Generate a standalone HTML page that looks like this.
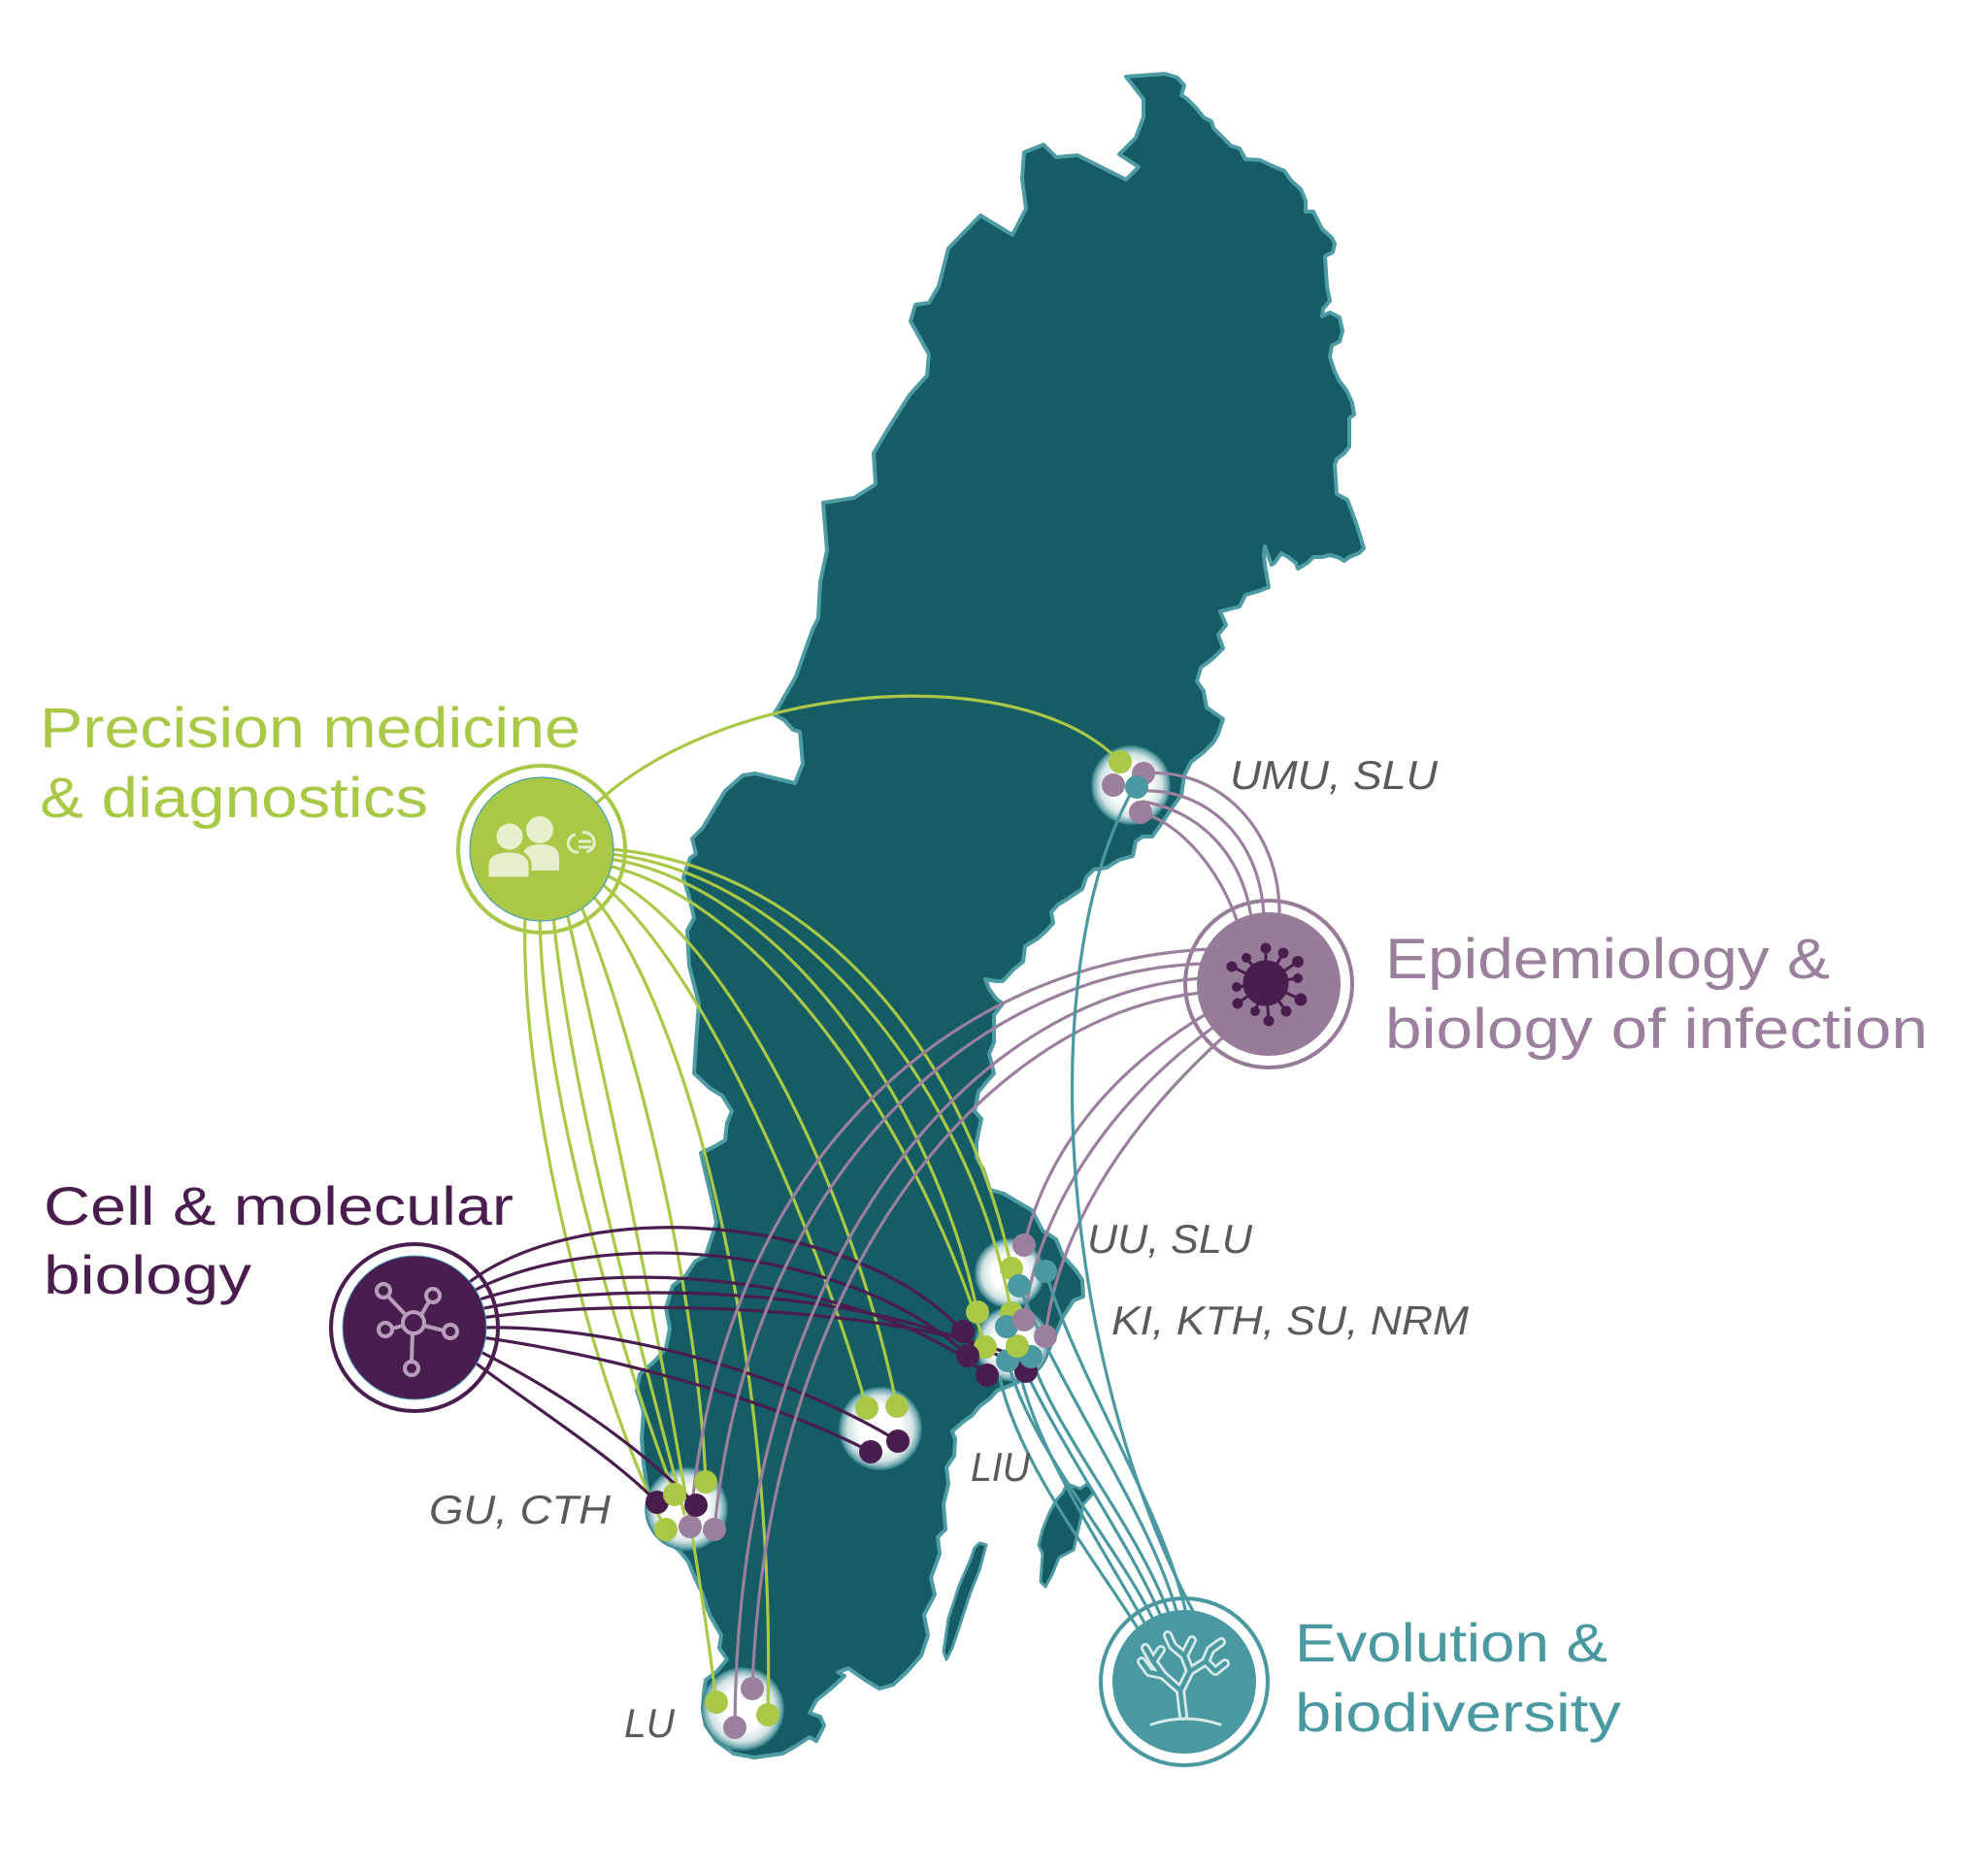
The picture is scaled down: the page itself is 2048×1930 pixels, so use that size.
<!DOCTYPE html>
<html>
<head>
<meta charset="utf-8">
<style>
html,body{margin:0;padding:0;background:#ffffff;}
svg{display:block;}
.big{font-family:"Liberation Sans",sans-serif;}
.lab{font-family:"Liberation Sans",sans-serif;font-style:italic;fill:#5a5a5a;font-size:42px;}
</style>
</head>
<body>
<svg width="2048" height="1930" viewBox="0 0 2048 1930" xmlns="http://www.w3.org/2000/svg">
<defs>
<radialGradient id="glow" cx="50%" cy="50%" r="50%">
<stop offset="0" stop-color="#ffffff"/>
<stop offset="0.5" stop-color="#ffffff"/>
<stop offset="0.8" stop-color="#d3e3e5"/>
<stop offset="0.95" stop-color="#6fa8ae"/>
<stop offset="1" stop-color="#2f7f88"/>
</radialGradient>
</defs>
<rect width="2048" height="1930" fill="#ffffff"/>

<!-- Sweden -->
<polygon fill="#155c63" stroke="#4d9ba3" stroke-width="4" stroke-linejoin="round" points="1160,79 1200,76 1213,80 1220,88 1217,98 1223,102 1232,111 1240,121 1248,125 1250,132 1260,142 1268,150 1277,153 1283,164 1298,165 1313,172 1323,176 1330,186 1340,195 1345,207 1345,218 1353,218 1357,226 1362,236 1372,245 1375,251 1373,260 1365,264 1367,295 1370,310 1363,318 1362,326 1370,322 1380,327 1383,341 1380,352 1372,356 1370,368 1375,383 1380,393 1387,402 1393,415 1395,427 1390,431 1390,460 1385,467 1377,473 1375,479 1377,509 1388,515 1393,528 1398,542 1402,555 1405,565 1400,570 1390,574 1385,578 1378,574 1370,572 1362,574 1353,574 1347,580 1337,586 1335,580 1327,574 1320,570 1313,580 1310,582 1307,574 1303,563 1302,572 1303,582 1307,605 1297,609 1283,613 1277,625 1257,630 1263,644 1255,654 1260,668 1250,678 1237,688 1233,702 1240,712 1243,729 1253,736 1260,741 1255,756 1250,765 1240,775 1227,785 1220,799 1217,819 1207,833 1197,848 1187,862 1177,862 1170,867 1167,882 1153,886 1140,894 1127,896 1119,904 1115,916 1106,922 1097,928 1090,932 1083,940 1085,951 1078,959 1069,967 1056,975 1054,991 1044,999 1033,1011 1026,1011 1015,1009 1019,1019 1026,1029 1033,1034 1024,1046 1024,1074 1019,1086 1022,1098 1024,1106 1017,1114 1008,1125 1004,1145 1011,1153 1006,1177 1006,1193 1013,1205 1020,1226 1034,1230 1049,1239 1063,1247 1074,1268 1088,1277 1095,1294 1102,1302 1109,1310 1115,1319 1116,1336 1106,1340 1095,1357 1088,1374 1081,1390 1077,1399 1070,1407 1059,1416 1049,1424 1040,1428 1027,1433 1020,1441 1009,1449 1002,1458 991,1466 981,1475 984,1483 983,1500 975,1512 977,1529 972,1550 974,1576 966,1584 968,1601 959,1626 963,1643 952,1664 956,1685 949,1706 934,1723 920,1736 906,1740 891,1731 874,1719 863,1723 870,1727 856,1740 841,1752 834,1765 845,1769 849,1778 841,1794 834,1790 820,1799 806,1807 777,1811 756,1807 738,1794 727,1778 724,1761 725,1744 727,1731 738,1723 749,1710 741,1698 743,1685 731,1664 724,1643 716,1626 709,1609 699,1597 677,1580 670,1546 666,1529 663,1508 661,1483 663,1454 656,1433 659,1416 674,1403 686,1390 690,1369 686,1348 693,1325 706,1315 716,1300 727,1294 738,1260 734,1239 722,1188 735,1182 747,1175 749,1157 754,1145 744,1129 731,1121 715,1106 717,1074 720,1034 715,1015 710,995 708,959 715,946 711,928 704,904 711,884 717,880 713,864 724,853 736,833 747,815 765,799 778,797 819,807 827,787 824,754 817,752 808,742 797,736 801,730 820,697 837,649 843,637 845,600 852,567 848,518 880,513 902,499 900,467 913,445 937,407 955,387 957,365 938,331 943,314 957,312 967,295 977,256 1010,222 1043,242 1057,215 1053,184 1055,157 1075,149 1088,162 1110,160 1160,185 1173,172 1153,159 1170,142 1178,121 1178,102"/>
<!-- Gotland -->
<polygon fill="#155c63" stroke="#4d9ba3" stroke-width="3" stroke-linejoin="round" points="1099,1529 1113,1534 1120,1529 1127,1538 1116,1550 1113,1567 1109,1584 1106,1597 1091,1605 1084,1622 1077,1635 1072,1630 1074,1601 1070,1592 1074,1576 1081,1559 1088,1546 1095,1538"/>
<!-- Oland -->
<polygon fill="#155c63" stroke="#4d9ba3" stroke-width="3" stroke-linejoin="round" points="1009,1590 1016,1592 1009,1618 999,1643 991,1668 981,1698 975,1710 972,1702 977,1668 988,1634 999,1609 1004,1595"/>

<!-- glow nodes -->
<g stroke="#3f8a92" stroke-width="1.5" fill="url(#glow)">
<circle cx="1165" cy="809" r="40"/>
<circle cx="1040" cy="1312" r="35"/>
<circle cx="1043" cy="1385" r="38"/>
<circle cx="907" cy="1472" r="42"/>
<circle cx="707" cy="1555" r="42"/>
<circle cx="765" cy="1761" r="42"/>
</g>

<!-- hub rings -->
<g fill="none" stroke-width="4">
<circle cx="558" cy="875" r="86" stroke="#a8c846"/>
<circle cx="1307" cy="1014" r="86" stroke="#977c99"/>
<circle cx="427" cy="1368" r="86" stroke="#4a1d4f"/>
<circle cx="1220" cy="1733" r="86" stroke="#4a98a0"/>
</g>

<!-- green lines -->
<g fill="none" stroke="#a8c846" stroke-width="3.2" stroke-linecap="round">
<path d="M612,830 C750,700 1050,680 1152,783"/>
<path d="M628,875 C820,890 990,1060 1042,1307"/>
<path d="M627,885 C800,910 960,1130 1007,1352"/>
<path d="M628,880 C820,900 1000,1120 1042,1353"/>
<path d="M626,892 C790,930 950,1170 1015,1388"/>
<path d="M623,901 C750,960 880,1230 924,1449"/>
<path d="M619,910 C720,990 840,1260 893,1451"/>
<path d="M610,922 C710,1040 800,1400 791,1767"/>
<path d="M598,932 C660,1080 720,1350 727,1527"/>
<path d="M584,940 C620,1100 700,1450 738,1754"/>
<path d="M570,944 C590,1150 670,1420 705,1560"/>
<path d="M556,945 C560,1150 650,1420 695,1540"/>
<path d="M541,943 C535,1150 620,1450 686,1576"/>
</g>
<!-- dark lines -->
<g fill="none" stroke="#4a1d4f" stroke-width="3.2" stroke-linecap="round">
<path d="M481,1323 C600,1230 880,1250 992,1372"/>
<path d="M486,1331 C620,1260 880,1285 997,1397"/>
<path d="M491,1340 C640,1290 900,1320 1017,1417"/>
<path d="M494,1349 C650,1315 930,1330 1057,1413"/>
<path d="M496,1358 C660,1335 920,1350 1040,1395"/>
<path d="M497,1368 C640,1365 820,1420 925,1485"/>
<path d="M496,1378 C620,1395 790,1440 897,1496"/>
<path d="M493,1392 C570,1430 660,1490 717,1551"/>
<path d="M488,1403 C550,1450 630,1500 677,1548"/>
</g>
<!-- mauve lines -->
<g fill="none" stroke="#9b809e" stroke-width="3.2" stroke-linecap="round">
<path d="M1318,945 C1320,850 1250,790 1179,797"/>
<path d="M1302,944 C1298,860 1240,815 1183,815"/>
<path d="M1289,946 C1280,880 1235,835 1177,826"/>
<path d="M1275,951 C1258,900 1220,850 1175,837"/>
<path d="M1247,978 C980,990 740,1200 711,1573"/>
<path d="M1241,993 C1000,1000 770,1220 736,1576"/>
<path d="M1238,1008 C1000,1025 760,1300 757,1780"/>
<path d="M1237,1023 C1010,1048 790,1320 775,1740"/>
<path d="M1244,1044 C1150,1100 1080,1180 1055,1283"/>
<path d="M1252,1057 C1150,1130 1070,1240 1055,1360"/>
<path d="M1262,1067 C1170,1150 1090,1260 1077,1377"/>
</g>
<!-- teal lines -->
<g fill="none" stroke="#4a98a0" stroke-width="3.2" stroke-linecap="round">
<path d="M1231,1664 C1095,1410 1060,1000 1169,810"/>
<path d="M1222,1663 C1200,1560 1110,1420 1077,1310"/>
<path d="M1213,1664 C1185,1560 1090,1430 1050,1325"/>
<path d="M1205,1665 C1170,1570 1090,1480 1062,1398"/>
<path d="M1197,1668 C1160,1580 1070,1460 1037,1367"/>
<path d="M1189,1671 C1150,1590 1060,1490 1038,1402"/>
<path d="M1181,1676 C1140,1600 1070,1500 1050,1412"/>
<path d="M1174,1681 C1130,1610 1050,1510 1030,1420"/>
</g>

<!-- hub fills -->
<circle cx="558" cy="875" r="74" fill="#a8c846" stroke="#4a9fb5" stroke-width="1.2"/>
<circle cx="1307" cy="1014" r="74" fill="#977c99"/>
<circle cx="427" cy="1368" r="74" fill="#4a1d4f" stroke="#4a9fb5" stroke-width="1"/>
<circle cx="1220" cy="1733" r="74" fill="#4a98a0"/>

<!-- precision icon -->
<g fill="#e6f0cd">
<circle cx="556" cy="855" r="14"/>
<path d="M538,897 L538,884 Q538,870 557,870 Q576,870 576,884 L576,897 Z"/>
<circle cx="525" cy="862" r="15" stroke="#a8c846" stroke-width="3"/>
<path d="M502,905 L502,892 Q502,877 524,877 Q546,877 546,892 L546,905 Z" stroke="#a8c846" stroke-width="3"/>
</g>
<g fill="none" stroke="#e6f0cd" stroke-width="3">
<path d="M593,860 A9,9 0 1,0 596,878"/>
<path d="M600,858 A9,9 0 0,1 604,878"/>
<line x1="596" y1="867" x2="609" y2="867"/>
<line x1="596" y1="873" x2="609" y2="873"/>
</g>

<!-- virus icon -->
<g stroke="#4a1d4f" stroke-width="3" fill="#4a1d4f">
<line x1="1304" y1="1013" x2="1304" y2="977"/>
<line x1="1304" y1="1013" x2="1322" y2="982"/>
<line x1="1304" y1="1013" x2="1337" y2="991"/>
<line x1="1304" y1="1013" x2="1337" y2="1008"/>
<line x1="1304" y1="1013" x2="1340" y2="1030"/>
<line x1="1304" y1="1013" x2="1325" y2="1042"/>
<line x1="1304" y1="1013" x2="1307" y2="1052"/>
<line x1="1304" y1="1013" x2="1293" y2="1042"/>
<line x1="1304" y1="1013" x2="1275" y2="1034"/>
<line x1="1304" y1="1013" x2="1274" y2="1017"/>
<line x1="1304" y1="1013" x2="1269" y2="996"/>
<line x1="1304" y1="1013" x2="1284" y2="987"/>
<circle cx="1304" cy="1013" r="22"/>
<circle cx="1304" cy="977" r="4"/>
<circle cx="1322" cy="982" r="4"/>
<circle cx="1337" cy="991" r="4.5"/>
<circle cx="1337" cy="1008" r="3.5"/>
<circle cx="1340" cy="1030" r="5"/>
<circle cx="1325" cy="1042" r="4"/>
<circle cx="1307" cy="1052" r="4"/>
<circle cx="1293" cy="1042" r="3.5"/>
<circle cx="1275" cy="1034" r="4"/>
<circle cx="1274" cy="1017" r="3.5"/>
<circle cx="1269" cy="996" r="4"/>
<circle cx="1284" cy="987" r="3.5"/>
</g>

<!-- molecule icon -->
<g stroke="#b89fbb" stroke-width="4" fill="none">
<line x1="418" y1="1355" x2="400" y2="1336"/>
<line x1="434" y1="1355" x2="442" y2="1341"/>
<line x1="415" y1="1366" x2="404" y2="1369"/>
<line x1="437" y1="1366" x2="457" y2="1371"/>
<line x1="425" y1="1374" x2="424" y2="1402"/>
<circle cx="426" cy="1363" r="11"/>
<circle cx="395" cy="1330" r="7"/>
<circle cx="446" cy="1335" r="7"/>
<circle cx="397" cy="1370" r="7"/>
<circle cx="464" cy="1372" r="7"/>
<circle cx="424" cy="1410" r="7"/>
</g>

<!-- coral icon -->
<g fill="none" stroke-linecap="round" stroke-linejoin="round">
<g stroke="#d6e9eb" stroke-width="10">
<path d="M1219,1768 L1216,1742 L1198,1726 L1188,1712 L1180,1698"/>
<path d="M1216,1742 L1226,1722 L1220,1706 L1228,1690"/>
<path d="M1226,1722 L1242,1712 L1247,1700 L1258,1692"/>
<path d="M1198,1726 L1184,1723 L1176,1712"/>
<path d="M1242,1712 L1252,1722 L1262,1714"/>
<path d="M1220,1706 L1208,1696 L1203,1685"/>
<path d="M1188,1712 L1196,1700"/>
</g>
<g stroke="#4a98a0" stroke-width="4.5">
<path d="M1219,1768 L1216,1742 L1198,1726 L1188,1712 L1180,1698"/>
<path d="M1216,1742 L1226,1722 L1220,1706 L1228,1690"/>
<path d="M1226,1722 L1242,1712 L1247,1700 L1258,1692"/>
<path d="M1198,1726 L1184,1723 L1176,1712"/>
<path d="M1242,1712 L1252,1722 L1262,1714"/>
<path d="M1220,1706 L1208,1696 L1203,1685"/>
<path d="M1188,1712 L1196,1700"/>
</g>
<path d="M1186,1777 Q1221,1765 1257,1777" stroke="#d6e9eb" stroke-width="3"/>
</g>

<!-- dots -->
<g>
<circle cx="1154" cy="785" r="12" fill="#a8c846"/>
<circle cx="1147" cy="809" r="12" fill="#9b809e"/>
<circle cx="1178" cy="797" r="12" fill="#9b809e"/>
<circle cx="1175" cy="837" r="12" fill="#9b809e"/>
<circle cx="1171" cy="811" r="12" fill="#4a98a0"/>

<circle cx="1055" cy="1283" r="12" fill="#9b809e"/>
<circle cx="1077" cy="1310" r="12" fill="#4a98a0"/>
<circle cx="1042" cy="1307" r="12" fill="#a8c846"/>
<circle cx="1050" cy="1325" r="12" fill="#4a98a0"/>

<circle cx="1057" cy="1413" r="12" fill="#4a1d4f"/>
<circle cx="1062" cy="1398" r="12" fill="#4a98a0"/>
<circle cx="1038" cy="1402" r="12" fill="#4a98a0"/>
<circle cx="1048" cy="1387" r="12" fill="#a8c846"/>
<circle cx="1042" cy="1353" r="12" fill="#a8c846"/>
<circle cx="1037" cy="1367" r="12" fill="#4a98a0"/>
<circle cx="1055" cy="1360" r="12" fill="#9b809e"/>
<circle cx="1077" cy="1377" r="12" fill="#9b809e"/>
<circle cx="1007" cy="1352" r="12" fill="#a8c846"/>
<circle cx="992" cy="1372" r="12" fill="#4a1d4f"/>
<circle cx="1015" cy="1388" r="12" fill="#a8c846"/>
<circle cx="997" cy="1397" r="12" fill="#4a1d4f"/>
<circle cx="1017" cy="1417" r="12" fill="#4a1d4f"/>

<circle cx="893" cy="1451" r="12" fill="#a8c846"/>
<circle cx="924" cy="1449" r="12" fill="#a8c846"/>
<circle cx="897" cy="1496" r="12" fill="#4a1d4f"/>
<circle cx="925" cy="1485" r="12" fill="#4a1d4f"/>

<circle cx="677" cy="1548" r="12" fill="#4a1d4f"/>
<circle cx="695" cy="1540" r="12" fill="#a8c846"/>
<circle cx="727" cy="1527" r="12" fill="#a8c846"/>
<circle cx="686" cy="1576" r="12" fill="#a8c846"/>
<circle cx="711" cy="1573" r="12" fill="#9b809e"/>
<circle cx="736" cy="1576" r="12" fill="#9b809e"/>
<circle cx="717" cy="1551" r="12" fill="#4a1d4f"/>

<circle cx="738" cy="1754" r="12" fill="#a8c846"/>
<circle cx="775" cy="1740" r="12" fill="#9b809e"/>
<circle cx="791" cy="1767" r="12" fill="#a8c846"/>
<circle cx="757" cy="1780" r="12" fill="#9b809e"/>
</g>

<!-- hub titles -->
<g class="big" font-size="58">
<text x="41" y="770" fill="#a8c846" textLength="557" lengthAdjust="spacingAndGlyphs">Precision medicine</text>
<text x="41" y="842" fill="#a8c846" textLength="400" lengthAdjust="spacingAndGlyphs">&amp; diagnostics</text>
<text x="1427" y="1008" fill="#9b809e" textLength="458" lengthAdjust="spacingAndGlyphs">Epidemiology &amp;</text>
<text x="1427" y="1080" fill="#9b809e" textLength="559" lengthAdjust="spacingAndGlyphs">biology of infection</text>
<text x="45" y="1262" fill="#4a1d4f" font-size="56" textLength="484" lengthAdjust="spacingAndGlyphs">Cell &amp; molecular</text>
<text x="45" y="1333" fill="#4a1d4f" font-size="56" textLength="214" lengthAdjust="spacingAndGlyphs">biology</text>
<text x="1334" y="1712" fill="#4a98a0" font-size="56" textLength="322" lengthAdjust="spacingAndGlyphs">Evolution &amp;</text>
<text x="1334" y="1784" fill="#4a98a0" font-size="56" textLength="336" lengthAdjust="spacingAndGlyphs">biodiversity</text>
</g>

<!-- node labels -->
<text class="lab" x="1267" y="813" textLength="214" lengthAdjust="spacingAndGlyphs">UMU, SLU</text>
<text class="lab" x="1120" y="1291" textLength="170" lengthAdjust="spacingAndGlyphs">UU, SLU</text>
<text class="lab" x="1145" y="1375" textLength="368" lengthAdjust="spacingAndGlyphs">KI, KTH, SU, NRM</text>
<text class="lab" x="1000" y="1526" textLength="61" lengthAdjust="spacingAndGlyphs">LIU</text>
<text class="lab" x="442" y="1570" textLength="187" lengthAdjust="spacingAndGlyphs">GU, CTH</text>
<text class="lab" x="643" y="1790" textLength="52" lengthAdjust="spacingAndGlyphs">LU</text>
</svg>
</body>
</html>
